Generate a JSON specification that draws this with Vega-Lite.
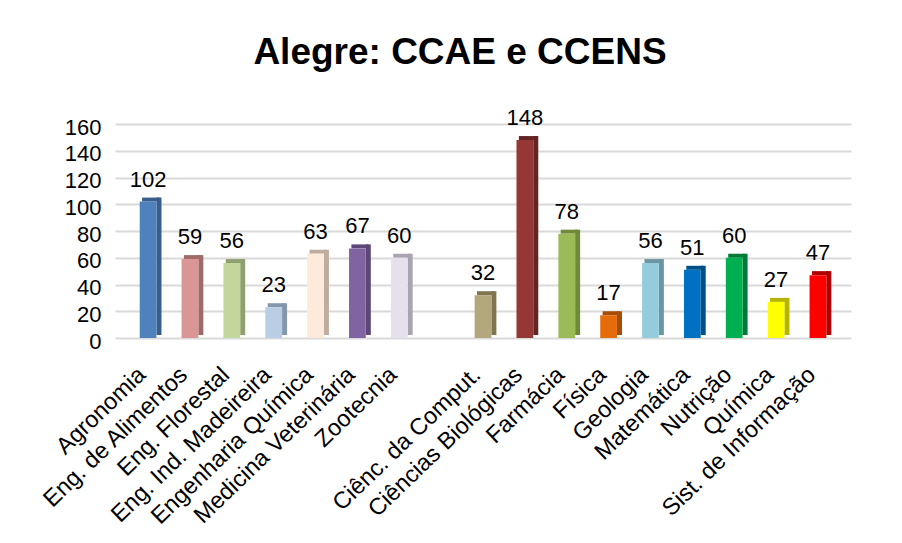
{
  "$schema": "https://vega.github.io/schema/vega-lite/v6.json",
  "width": 736,
  "height": 214,
  "autosize": "none",
  "padding": {"left": 115, "top": 124, "right": 51, "bottom": 205},
  "background": "white",
  "config": {
    "font": "Liberation Sans",
    "view": {"stroke": null}
  },
  "title": {
    "text": "Alegre: CCAE e CCENS",
    "fontSize": 37,
    "fontWeight": "bold",
    "color": "black",
    "font": "Liberation Sans",
    "offset": 35,
    "dx": -23
  },
  "data": {
    "values": [
      {"curso": "Agronomia", "n": 102},
      {"curso": "Eng. de Alimentos", "n": 59},
      {"curso": "Eng. Florestal", "n": 56},
      {"curso": "Eng. Ind. Madeireira", "n": 23},
      {"curso": "Engenharia Química", "n": 63},
      {"curso": "Medicina Veterinária", "n": 67},
      {"curso": "Zootecnia", "n": 60},
      {"curso": "Ciênc. da Comput.", "n": 32},
      {"curso": "Ciências Biológicas", "n": 148},
      {"curso": "Farmácia", "n": 78},
      {"curso": "Física", "n": 17},
      {"curso": "Geologia", "n": 56},
      {"curso": "Matemática", "n": 51},
      {"curso": "Nutrição", "n": 60},
      {"curso": "Química", "n": 27},
      {"curso": "Sist. de Informação", "n": 47}
    ]
  },
  "encoding": {
    "x": {
      "field": "curso",
      "type": "nominal",
      "sort": null,
      "scale": {
        "domain": ["Agronomia", "Eng. de Alimentos", "Eng. Florestal", "Eng. Ind. Madeireira", "Engenharia Química", "Medicina Veterinária", "Zootecnia", " ", "Ciênc. da Comput.", "Ciências Biológicas", "Farmácia", "Física", "Geologia", "Matemática", "Nutrição", "Química", "Sist. de Informação"],
        "paddingInner": 0.6,
        "paddingOuter": 0.59
      },
      "axis": {
        "title": null,
        "domain": false,
        "ticks": false,
        "labelAngle": -44,
        "labelAlign": "right",
        "labelBaseline": "middle",
        "labelFontSize": 23.5,
        "labelColor": "black",
        "labelPadding": 33,
        "labelOffset": -6,
        "labelOverlap": false,
        "labelLimit": 400
      }
    },
    "y": {
      "field": "n",
      "type": "quantitative",
      "scale": {"domain": [0, 160], "nice": false},
      "axis": {
        "title": null,
        "domain": false,
        "ticks": false,
        "values": [0, 20, 40, 60, 80, 100, 120, 140, 160],
        "labelFontSize": 22,
        "labelColor": "black",
        "labelPadding": 14,
        "labelOffset": 3,
        "gridColor": "#d9d9d9",
        "gridWidth": 2
      }
    }
  },
  "layer": [
    {
      "mark": {"type": "bar", "width": 5, "xOffset": 10.9, "yOffset": -4, "y2Offset": -3},
      "encoding": {
        "y2": {"datum": 0},
        "color": {
          "field": "curso",
          "type": "nominal",
          "legend": null,
          "scale": {
            "domain": ["Agronomia", "Eng. de Alimentos", "Eng. Florestal", "Eng. Ind. Madeireira", "Engenharia Química", "Medicina Veterinária", "Zootecnia", "Ciênc. da Comput.", "Ciências Biológicas", "Farmácia", "Física", "Geologia", "Matemática", "Nutrição", "Química", "Sist. de Informação"],
            "range": ["#385D8A", "#A06A69", "#8EA06D", "#8497AD", "#BFAEA0", "#5C4776", "#A9A4AF", "#7F7650", "#632523", "#6E8A3A", "#A54D07", "#6A95A3", "#004F87", "#007A37", "#B5B500", "#B00000"]
          }
        }
      }
    },
    {
      "mark": {"type": "bar", "width": 17, "xOffset": 2.5, "yOffset": -4, "y2Offset": 0},
      "encoding": {
        "y2": {"field": "n"},
        "color": {
          "field": "curso",
          "type": "nominal",
          "legend": null,
          "scale": {
            "domain": ["Agronomia", "Eng. de Alimentos", "Eng. Florestal", "Eng. Ind. Madeireira", "Engenharia Química", "Medicina Veterinária", "Zootecnia", "Ciênc. da Comput.", "Ciências Biológicas", "Farmácia", "Física", "Geologia", "Matemática", "Nutrição", "Química", "Sist. de Informação"],
            "range": ["#385D8A", "#A06A69", "#8EA06D", "#8497AD", "#BFAEA0", "#5C4776", "#A9A4AF", "#7F7650", "#632523", "#6E8A3A", "#A54D07", "#6A95A3", "#004F87", "#007A37", "#B5B500", "#B00000"]
          }
        }
      }
    },
    {
      "mark": {"type": "bar"},
      "encoding": {
        "color": {
          "field": "curso",
          "type": "nominal",
          "legend": null,
          "scale": {
            "domain": ["Agronomia", "Eng. de Alimentos", "Eng. Florestal", "Eng. Ind. Madeireira", "Engenharia Química", "Medicina Veterinária", "Zootecnia", "Ciênc. da Comput.", "Ciências Biológicas", "Farmácia", "Física", "Geologia", "Matemática", "Nutrição", "Química", "Sist. de Informação"],
            "range": ["#4F81BD", "#D99694", "#C3D69B", "#B9CDE5", "#FDEADA", "#8064A2", "#E6E0EC", "#B3A77D", "#953735", "#9BBB59", "#E46C0A", "#93CDDD", "#0070C0", "#00B050", "#FFFF00", "#FF0000"]
          }
        }
      }
    },
    {
      "mark": {"type": "text", "baseline": "bottom", "dy": -10, "fontSize": 22, "color": "black"},
      "encoding": {
        "text": {"field": "n", "type": "quantitative"}
      }
    }
  ],
  "resolve": {"scale": {"color": "independent"}}
}
